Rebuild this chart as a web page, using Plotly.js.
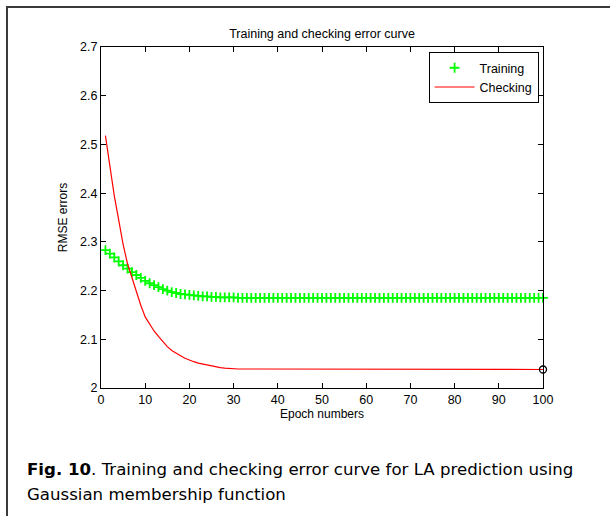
<!DOCTYPE html>
<html>
<head>
<meta charset="utf-8">
<script src="https://cdn.plot.ly/plotly-3.0.1.min.js"></script>
<style>
  html, body { margin: 0; padding: 0; background: #ffffff; }
  #wrap { position: relative; width: 610px; height: 516px; overflow: hidden; background: #ffffff; }
  #frame { position: absolute; left: 6px; top: 6px; width: 700px; height: 600px; border: 2px solid #3a3a3a; box-sizing: border-box; }
  #chart { position: absolute; left: 0; top: 0; width: 610px; height: 516px; }
</style>
</head>
<body>
<div id="wrap">
  <div id="frame"></div>
  <div id="chart"></div>
</div>
<script>
const epochs = [1,2,3,4,5,6,7,8,9,10,11,12,13,14,15,16,17,18,19,20,
  21,22,23,24,25,26,27,28,29,30,31,32,33,34,35,36,37,38,39,40,
  41,42,43,44,45,46,47,48,49,50,51,52,53,54,55,56,57,58,59,60,
  61,62,63,64,65,66,67,68,69,70,71,72,73,74,75,76,77,78,79,80,
  81,82,83,84,85,86,87,88,89,90,91,92,93,94,95,96,97,98,99,100];

const trainingError = [2.283,2.276,2.268,2.260,2.252,2.245,2.238,2.232,2.226,2.220,
  2.215,2.211,2.207,2.203,2.200,2.197,2.195,2.193,2.192,2.191,
  2.190,2.189,2.188,2.188,2.187,2.187,2.186,2.186,2.186,2.186,
  2.185,2.185,2.185,2.185,2.185,2.185,2.185,2.185,2.185,2.185,
  2.185,2.185,2.185,2.185,2.185,2.185,2.185,2.185,2.185,2.185,
  2.185,2.185,2.185,2.185,2.185,2.185,2.185,2.185,2.185,2.185,
  2.185,2.185,2.185,2.185,2.185,2.185,2.185,2.185,2.185,2.185,
  2.185,2.185,2.185,2.185,2.185,2.185,2.185,2.185,2.185,2.185,
  2.185,2.185,2.185,2.185,2.185,2.185,2.185,2.185,2.185,2.185,
  2.185,2.185,2.185,2.185,2.185,2.185,2.185,2.185,2.185,2.185];

const checkingError = [2.518,2.455,2.395,2.345,2.295,2.255,2.225,2.197,2.170,2.146,
  2.130,2.117,2.106,2.095,2.085,2.077,2.071,2.066,2.061,2.057,
  2.054,2.051,2.049,2.047,2.045,2.043,2.042,2.041,2.040,2.040,
  2.039,2.039,2.039,2.039,2.039,2.039,2.039,2.038,2.038,2.038,
  2.038,2.038,2.038,2.038,2.038,2.038,2.038,2.038,2.038,2.038,
  2.038,2.038,2.038,2.038,2.038,2.038,2.038,2.038,2.038,2.038,
  2.038,2.038,2.038,2.038,2.038,2.038,2.038,2.038,2.038,2.038,
  2.038,2.038,2.038,2.038,2.038,2.038,2.038,2.038,2.038,2.038,
  2.038,2.038,2.038,2.038,2.038,2.038,2.038,2.038,2.038,2.038,
  2.038,2.038,2.038,2.038,2.038,2.038,2.038,2.038,2.038,2.038];

const minCheckEpoch = [100];
const minCheckError = [2.038];

const xTickVals = [0,10,20,30,40,50,60,70,80,90,100];
const xTickText = ['0','10','20','30','40','50','60','70','80','90','100'];
const yTickVals = [2.0,2.1,2.2,2.3,2.4,2.5,2.6,2.7];
const yTickText = ['2','2.1','2.2','2.3','2.4','2.5','2.6','2.7'];

const seriesNames = ['Training','Checking'];
const chartTitle = 'Training and checking error curve';
const xTitle = 'Epoch numbers';
const yTitle = 'RMSE errors';
const captionLine1 = '<b>Fig. 10</b>. Training and checking error curve for LA prediction using';
const captionLine2 = 'Gaussian membership function';

const FONT = 'Liberation Sans, Arial, sans-serif';
const CAPFONT = 'DejaVu Sans, Verdana, sans-serif';

const traces = [
  {
    x: epochs, y: trainingError, name: seriesNames[0], type: 'scatter', mode: 'markers',
    cliponaxis: false,
    marker: { symbol: 'cross-thin-open', size: 7, color: '#00ff00', line: { color: '#00ff00', width: 1.8 } }
  },
  {
    x: epochs, y: checkingError, name: seriesNames[1], type: 'scatter', mode: 'lines',
    line: { color: '#ff0000', width: 1.2 }
  },
  {
    x: minCheckEpoch, y: minCheckError, type: 'scatter', mode: 'markers', showlegend: false,
    cliponaxis: false,
    marker: { symbol: 'circle-open', size: 7, color: '#000000', line: { color: '#000000', width: 1.3 } }
  }
];

const layout = {
  width: 610, height: 516,
  margin: { l: 101, r: 67, t: 47, b: 128 },
  paper_bgcolor: 'rgba(0,0,0,0)',
  plot_bgcolor: '#ffffff',
  font: { family: FONT, size: 12, color: '#000000' },
  title: { text: chartTitle, font: { family: FONT, size: 12.5, color: '#000000' }, x: 0.5, xanchor: 'center', xref: 'paper', y: 1, yref: 'paper', yanchor: 'bottom', pad: { b: 9 } },
  xaxis: {
    range: [0, 100], tickmode: 'array', tickvals: xTickVals, ticktext: xTickText,
    ticks: 'inside', ticklen: 5, tickwidth: 1, tickcolor: '#000000',
    showline: true, linecolor: '#000000', linewidth: 1, mirror: 'ticks',
    showgrid: false, zeroline: false,
    tickfont: { family: FONT, size: 12.5, color: '#000000' },
    title: { text: xTitle, font: { family: FONT, size: 12, color: '#000000' }, standoff: 2 }
  },
  yaxis: {
    range: [2, 2.7], tickmode: 'array', tickvals: yTickVals, ticktext: yTickText,
    ticks: 'inside', ticklen: 5, tickwidth: 1, tickcolor: '#000000',
    showline: true, linecolor: '#000000', linewidth: 1, mirror: 'ticks',
    showgrid: false, zeroline: false,
    tickfont: { family: FONT, size: 12.5, color: '#000000' },
    title: { text: yTitle, font: { family: FONT, size: 12, color: '#000000' }, standoff: 9 }
  },
  legend: {
    x: 0.99, y: 0.985, xanchor: 'right', yanchor: 'top',
    bgcolor: '#ffffff', bordercolor: '#000000', borderwidth: 1,
    font: { family: FONT, size: 12.5, color: '#000000' },
    itemwidth: 40,
    tracegroupgap: 0
  },
  annotations: [
    { text: captionLine1, xref: 'paper', yref: 'paper', x: (25 - 101) / 442, y: (388 - 469) / 341,
      xanchor: 'left', yanchor: 'middle', showarrow: false, font: { family: CAPFONT, size: 16.6, color: '#000000' } },
    { text: captionLine2, xref: 'paper', yref: 'paper', x: (25 - 101) / 442, y: (388 - 494) / 341,
      xanchor: 'left', yanchor: 'middle', showarrow: false, font: { family: CAPFONT, size: 16.6, color: '#000000' } }
  ],
  showlegend: true
};

Plotly.newPlot('chart', traces, layout, { displayModeBar: false, staticPlot: true });
</script>
</body>
</html>
